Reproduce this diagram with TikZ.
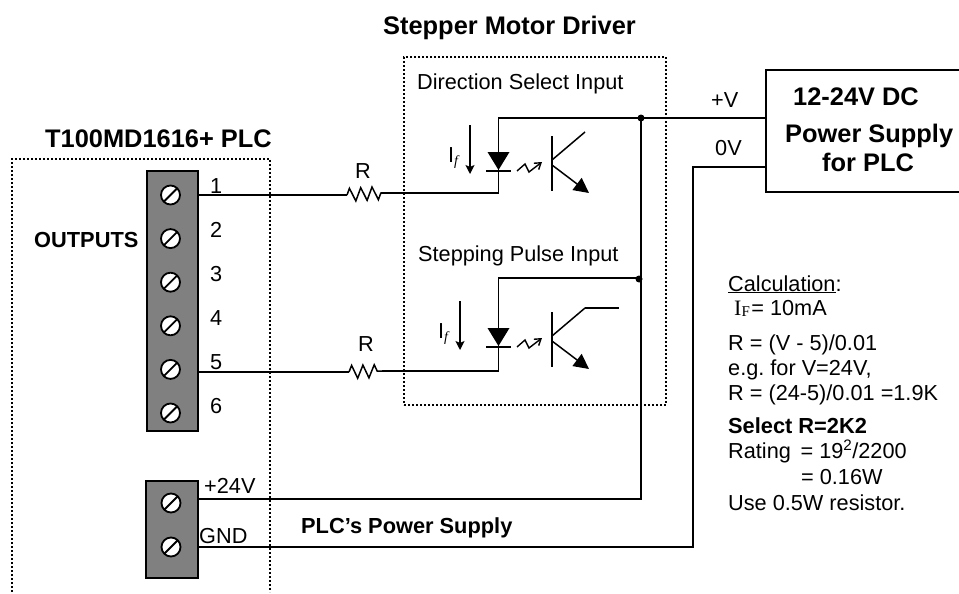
\documentclass[tikz,border=0pt]{standalone}
\usepackage{fontspec}
\setmainfont{Liberation Sans}
\newfontfamily\serifface{Liberation Serif}
\usetikzlibrary{arrows.meta,decorations.pathmorphing}
\tikzset{
  txt/.style={anchor=base west, inner sep=0, font=\fontsize{21.7}{26}\selectfont\frenchspacing},
  bold/.style={txt, font=\fontsize{21.8}{26}\selectfont\bfseries},
  title/.style={txt, font=\fontsize{25.4}{30}\selectfont\bfseries},
  wire/.style={line width=1.5pt},
  dots/.style={line width=2pt, dash pattern=on 2pt off 2pt},
  block/.style={draw, line width=1.8pt, fill=black!50, anchor=north west, inner sep=0},
  screw/.style={draw, circle, fill=white, line width=1.8pt, minimum size=19pt, inner sep=0},
  res/.style={wire, decorate, decoration={zigzag, segment length=11.3pt, amplitude=6.5pt}}
}
\begin{document}
\begin{tikzpicture}[x=1pt, y=-1pt]
\useasboundingbox (0, 0) rectangle (959, 594);
\newcommand{\pitch}{43.6}
\newcommand{\iflabel}{I\raisebox{-3pt}{\fontsize{14}{14}\serifface\itshape f}}

\node[title] (drvtitle) at (383, 35) {Stepper Motor Driver};
\node[title] (plctitle) at (45, 147) {T100MD1616+ PLC};
\node[bold] (outlabel) at (34, 247) {OUTPUTS};

\node[dots, draw, anchor=north west, minimum width=262pt, minimum height=348pt] (drv) at (403, 56) {};
\draw[dots] (12, 592) -- (12, 159) -- (270, 159) -- (270, 592);

% terminal blocks
\node[block, minimum width=51pt, minimum height=260pt] (tbout) at (146, 170) {};
\foreach \n in {1,...,6} {
  \pgfmathsetmacro{\yy}{195+(\n-1)*\pitch}
  \node[screw] (s\n) at (170.5, \yy) {};
  \draw[line width=1.8pt] (s\n) ++(-6.5, 6.5) -- ++(13, -13);
  \pgfmathsetmacro{\yt}{185+(\n-1)*44}
  \node[txt] (n\n) at (210, \yt+8) {\n};
}
\node[block, minimum width=52pt, minimum height=97pt] (tbpwr) at (145, 480) {};
\foreach \n/\yy in {p/503, g/547} {
  \node[screw] (s\n) at (171, \yy) {};
  \draw[line width=1.8pt] (s\n) ++(-6.5, 6.5) -- ++(13, -13);
}
\node[txt] (plus24) at (204, 493) {+24V};
\node[txt] (gnd) at (199, 543) {GND};
\node[bold] (plcpwr) at (301, 533) {PLC's Power Supply};

% power supply box
\coordinate (psuplus) at (766, 118);
\coordinate (psuzero) at (766, 167);
\draw[line width=1.8pt] (959, 70) -- (766, 70) -- (766, 192) -- (959, 192);
\node[title] (psua) at (793, 106) {12-24V DC};
\node[title] (psub) at (785, 142) {Power Supply};
\node[title] (psuc) at (822, 171) {for PLC};
\node[txt] (vplus) at (711, 107) {+V};
\node[txt] (vzero) at (715, 155) {0V};

% optocouplers
\foreach \name/\dy in {a/0, b/176} {
  \begin{scope}[yshift=-\dy pt]
    \fill (487.5, 152) -- (509.5, 152) -- (498.5, 170) -- cycle;
    \draw[wire] (486, 171) -- (511, 171);
    \draw[wire] (552, 136) -- (552, 191);
    \coordinate (col\name) at (585, 132);
    \draw[wire] (552, 160) -- (col\name);
    \draw[wire, -{Triangle[length=15pt, width=15pt]}] (552, 165) -- (589, 193);
    \draw[line width=1.4pt, -{Straight Barb[length=6pt, width=8pt]}] (517, 171) -- (525, 164) -- (529, 172) -- (542, 162);
  \end{scope}
}
\draw[wire] (colb) -- (619, 308);
\node[txt] (dirsel) at (417, 90) {Direction Select Input};
\node[txt] (steppulse) at (418, 261) {Stepping Pulse Input};
\node[txt] (ifa) at (448, 162) {\iflabel};
\node[txt] (ifb) at (438, 338) {\iflabel};
\draw[line width=1.2pt, -{Stealth[length=9pt, width=9pt, inset=2pt]}] (470, 125) -- (470, 174);
\draw[line width=1.2pt, -{Stealth[length=9pt, width=9pt, inset=2pt]}] (460, 301) -- (460, 350);

% wiring
\coordinate (ra) at (347, 195);
\coordinate (rb) at (381, 193);
\coordinate (rc) at (349, 372);
\coordinate (rd) at (382, 371);
\coordinate (joina) at (641, 118);
\coordinate (joinb) at (641, 278);
\node[txt] (rlabela) at (355, 178) {R};
\node[txt] (rlabelb) at (358, 351) {R};
\draw[wire] (tbout.east |- ra) -- (ra);
\draw[res] (ra) -- (rb);
\draw[wire] (rb) -- (498.5, 193) -- (498.5, 118) -- (joina) -- (psuplus);
\draw[wire] (tbout.east |- rc) -- (rc);
\draw[res] (rc) -- (rd);
\draw[wire] (rd) -- (498.5, 371) -- (498.5, 278) -- (joinb);
\draw[wire] (tbpwr.east |- sp) ++(0, -4) -- (641, 499) -- (joina);
\draw[wire] (tbpwr.east |- sg) -- (693, 547) -- (693, 167) -- (psuzero);
\fill (joina) circle (3.5);
\fill (639, 279) circle (3.5);

% calculation notes
\node[txt] (calca) at (728, 291) {\underline{Calculation}:};
\node[txt] (calcb) at (734, 315) {{\serifface\fontsize{22}{26}\selectfont I\raisebox{-1pt}{\fontsize{15}{15}\selectfont F}}\kern1.5pt= 10mA};
\node[txt] (calcc) at (728, 350) {R = (V - 5)/0.01};
\node[txt] (calcd) at (728, 375) {e.g. for V=24V,};
\node[txt] (calce) at (728, 400) {R = (24-5)/0.01 =1.9K};
\node[bold] (calcf) at (728, 433) {Select R=2K2};
\node[txt] (calcg) at (728, 458) {Rating\, = 19\textsuperscript{2}/2200};
\node[txt] (calch) at (801, 484) {= 0.16W};
\node[txt] (calci) at (728, 510) {Use 0.5W resistor.};
\end{tikzpicture}
\end{document}
